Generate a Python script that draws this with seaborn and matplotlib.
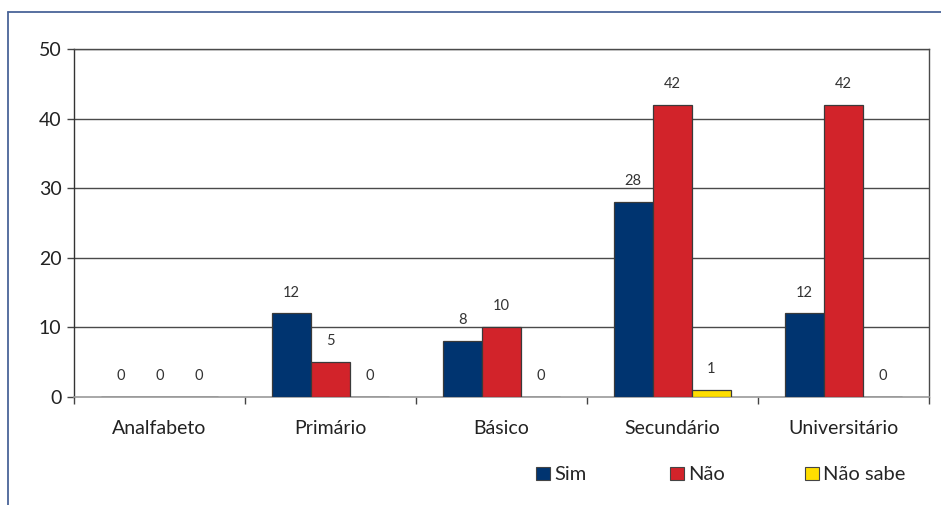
import matplotlib
matplotlib.use("Agg")
import matplotlib.pyplot as plt
from matplotlib.lines import Line2D
from matplotlib.patches import Patch
import seaborn as sns
import pandas as pd

# Escolaridade e respostas
categorias = ["Analfabeto", "Primário", "Básico", "Secundário", "Universitário"]
respostas = ["Sim", "Não", "Não sabe"]
sim = [0, 12, 8, 28, 12]
nao = [0, 5, 10, 42, 42]
nao_sabe = [0, 0, 0, 1, 0]
cores = ["#003470", "#d2232a", "#ffde00"]
y_ticks = [0, 10, 20, 30, 40, 50]

rows = []
for resp, vals in zip(respostas, [sim, nao, nao_sabe]):
    for cat, v in zip(categorias, vals):
        rows.append({"Escolaridade": cat, "Resposta": resp, "Valor": v})
df = pd.DataFrame(rows)

sns.set_style("white")
plt.rcParams["font.family"] = ["Lato", "DejaVu Sans"]

fig = plt.figure(figsize=(9.41, 5.05), dpi=100)
ax = fig.add_axes([0.0786, 0.2139, 0.9084, 0.6891])

sns.barplot(data=df, x="Escolaridade", y="Valor", hue="Resposta",
            order=categorias, hue_order=respostas, palette=cores,
            saturation=1, width=0.685, edgecolor="#3a3a3a", linewidth=0.9,
            errorbar=None, legend=False, ax=ax, zorder=3)

for cont in ax.containers:
    ax.bar_label(cont, fmt="%d", padding=10, fontsize=10.5, color="#333333")

ax.set_xlim(-0.5, len(categorias) - 0.5)
ax.set_ylim(0, 50)
ax.set_yticks(y_ticks)
ax.set_yticklabels([str(t) for t in y_ticks], fontsize=14, color="#222222")
ax.tick_params(axis="y", length=5, width=1, color="#444444", pad=4, left=True)
for t in y_ticks[1:]:
    ax.axhline(t, color="#4a4a4a", lw=1, zorder=1)

ax.set_xticks(range(len(categorias)))
ax.set_xticklabels(categorias, fontsize=14, color="#222222")
ax.tick_params(axis="x", length=0, pad=16.5)
ax.set_xticks([i - 0.5 for i in range(len(categorias) + 1)], minor=True)
ax.tick_params(axis="x", which="minor", length=5, width=1, color="#444444", bottom=True)
ax.set_xlabel("")
ax.set_ylabel("")

for side in ["left", "right", "top"]:
    ax.spines[side].set_visible(True)
    ax.spines[side].set_color("#4a4a4a")
    ax.spines[side].set_linewidth(1)
ax.spines["bottom"].set_color("#9a9a9a")
ax.spines["bottom"].set_linewidth(1.2)
ax.spines["left"].set_color("#333333")

# Legenda: uma entrada por posição, com espaçamento igual
legenda_x = [536 / 941, 670 / 941, 805 / 941]
for cor, rotulo, x0 in zip(cores, respostas, legenda_x):
    h = Patch(facecolor=cor, edgecolor="#444444", linewidth=0.8)
    fig.legend([h], [rotulo], loc="center left", bbox_to_anchor=(x0, 1 - 475 / 505),
               frameon=False, fontsize=14.5, handlelength=0.7, handleheight=0.6,
               handletextpad=0.2, borderpad=0, borderaxespad=0)

# Moldura
moldura = "#4a6498"
fig.add_artist(Line2D([0.0085, 1.0], [1 - 12 / 505, 1 - 12 / 505],
                      transform=fig.transFigure, color=moldura, lw=1.3))
fig.add_artist(Line2D([0.0085, 0.0085], [1 - 12 / 505, 0.0],
                      transform=fig.transFigure, color=moldura, lw=1.3))

fig.savefig("out.png", dpi=100)
